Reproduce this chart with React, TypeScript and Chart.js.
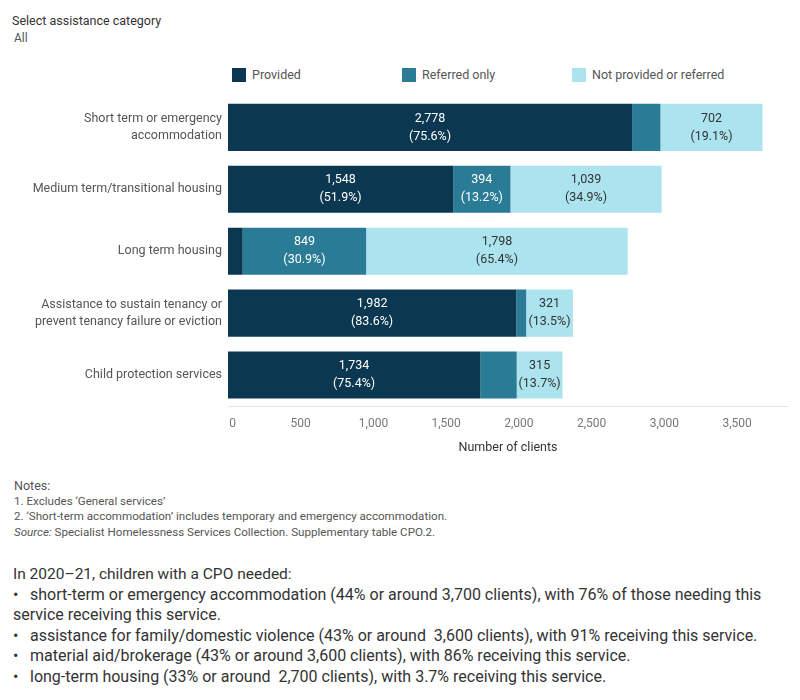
import React, { useEffect, useRef } from "react";
import { Chart, registerables } from "chart.js";

Chart.register(...registerables);

// Assistance categories (multi-line labels as arrays)
const categories: string[][] = [
  ["Short term or emergency", "accommodation"],
  ["Medium term/transitional housing"],
  ["Long term housing"],
  ["Assistance to sustain tenancy or", "prevent tenancy failure or eviction"],
  ["Child protection services"],
];

// Number of clients by outcome
const provided = [2778, 1548, 101, 1982, 1734];
const referredOnly = [195, 394, 849, 68, 251];
const notProvided = [702, 1039, 1798, 321, 315];

const seriesNames = ["Provided", "Referred only", "Not provided or referred"];
const seriesColors = ["#0b3850", "#2a7c96", "#abe3ee"];
const labelColors = ["#ffffff", "#ffffff", "#333333"];

const xTicks = [0, 500, 1000, 1500, 2000, 2500, 3000, 3500];
const xMax = 3850;

const FONT = "Roboto, 'Noto Sans', sans-serif";

const fmt = (v: number) => v.toLocaleString("en-US");

// Draws "value (share%)" inside each segment that is wide enough
const segmentLabels = {
  id: "segmentLabels",
  afterDatasetsDraw(chart: any) {
    const { ctx } = chart;
    const totals = categories.map(
      (_, i) => provided[i] + referredOnly[i] + notProvided[i]
    );
    ctx.save();
    ctx.font = `12.5px ${FONT}`;
    ctx.textAlign = "center";
    ctx.textBaseline = "middle";
    chart.data.datasets.forEach((ds: any, di: number) => {
      const meta = chart.getDatasetMeta(di);
      meta.data.forEach((bar: any, i: number) => {
        const v = ds.data[i] as number;
        const w = Math.abs(bar.x - bar.base);
        if (w < 40) return;
        const cx = (bar.x + bar.base) / 2;
        const pct = ((v / totals[i]) * 100).toFixed(1);
        ctx.fillStyle = labelColors[di];
        ctx.fillText(fmt(v), cx, bar.y - 9);
        ctx.fillText(`(${pct}%)`, cx, bar.y + 9);
      });
    });
    ctx.restore();
  },
};

function BarChart() {
  const ref = useRef<HTMLCanvasElement>(null);
  useEffect(() => {
    if (!ref.current) return;
    const chart = new Chart(ref.current, {
      type: "bar",
      data: {
        labels: categories,
        datasets: [provided, referredOnly, notProvided].map((d, i) => ({
          label: seriesNames[i],
          data: d,
          backgroundColor: seriesColors[i],
          borderWidth: 0,
          barPercentage: 0.76,
          categoryPercentage: 1,
        })),
      },
      options: {
        indexAxis: "y",
        animation: false,
        responsive: false,
        maintainAspectRatio: false,
        layout: { padding: { top: 6, right: 12, left: 0, bottom: 0 } },
        plugins: {
          legend: { display: false },
          tooltip: { enabled: false },
        },
        scales: {
          x: {
            stacked: true,
            min: 0,
            max: xMax,
            afterBuildTicks: (scale: any) => {
              scale.ticks = xTicks.map((value) => ({ value }));
            },
            afterFit: (scale: any) => {
              scale.height = 60;
            },
            grid: { display: false, drawTicks: false },
            border: { display: true, color: "#e6e6e6", width: 1 },
            ticks: {
              padding: 11,
              color: "#777777",
              font: { family: FONT, size: 12 },
              // the zero label sits just inside the axis start
              callback: (v: any) => (Number(v) === 0 ? "\u2002 0" : fmt(Number(v))),
              maxRotation: 0,
            },
            title: {
              display: true,
              text: "Number of clients",
              color: "#333333",
              font: { family: FONT, size: 12.5 },
              padding: { top: 4, bottom: 11 },
            },
          },
          y: {
            stacked: true,
            afterFit: (scale: any) => {
              scale.width = 228;
            },
            grid: { display: false, drawTicks: false },
            border: { display: false },
            ticks: {
              padding: 6,
              color: "#555555",
              font: { family: FONT, size: 12.5, lineHeight: 1.35 },
            },
          },
        },
      },
      plugins: [segmentLabels],
    });
    return () => chart.destroy();
  }, []);
  return (
    <canvas
      ref={ref}
      width={800}
      height={384}
      style={{ position: "absolute", left: 0, top: 82, width: 800, height: 384 }}
    />
  );
}

const legendX = [232, 402, 572];

const bullets = [
  "short-term or emergency accommodation (44% or around 3,700 clients), with 76% of those needing this service receiving this service.",
  "assistance for family/domestic violence (43% or around\u00a0 3,600 clients), with 91% receiving this service.",
  "material aid/brokerage (43% or around 3,600 clients), with 86% receiving this service.",
  "long-term housing (33% or around\u00a0 2,700 clients), with 3.7% receiving this service.",
];

export default function App() {
  const gray = "#555555";
  return (
    <div
      style={{
        position: "absolute",
        left: 0,
        top: 0,
        width: 800,
        height: 700,
        fontFamily: FONT,
        background: "#ffffff",
        overflow: "hidden",
      }}
    >
      <div style={{ position: "absolute", left: 12, top: 13, fontSize: 12.5, color: "#333" }}>
        Select assistance category
      </div>
      <div style={{ position: "absolute", left: 14, top: 31, fontSize: 12, color: gray }}>
        All
      </div>
      {seriesNames.map((name, i) => (
        <div
          key={name}
          style={{
            position: "absolute",
            left: legendX[i],
            top: 67,
            display: "flex",
            alignItems: "center",
            fontSize: 12.5,
            color: gray,
          }}
        >
          <span
            style={{
              display: "inline-block",
              width: 14,
              height: 14,
              background: seriesColors[i],
              marginRight: 6,
            }}
          />
          {name}
        </div>
      ))}
      <BarChart />
      <div
        style={{
          position: "absolute",
          left: 14,
          top: 478,
          fontSize: 11.6,
          lineHeight: "15.7px",
          color: gray,
        }}
      >
        <div style={{ fontSize: 12.5 }}>Notes:</div>
        <div>1. Excludes ‘General services’</div>
        <div>2. ‘Short-term accommodation’ includes temporary and emergency accommodation.</div>
        <div>
          <i>Source:</i> Specialist Homelessness Services Collection. Supplementary table CPO.2.
        </div>
      </div>
      <div
        style={{
          position: "absolute",
          left: 13,
          top: 564,
          width: 775,
          fontSize: 16,
          lineHeight: "20.5px",
          color: "#333",
        }}
      >
        <div style={{ fontSize: 15.5 }}>In 2020–21, children with a CPO needed:</div>
        {bullets.map((b) => (
          <div key={b}>
            <span style={{ display: "inline-block", width: 17 }}>•</span>
            {b}
          </div>
        ))}
      </div>
    </div>
  );
}
